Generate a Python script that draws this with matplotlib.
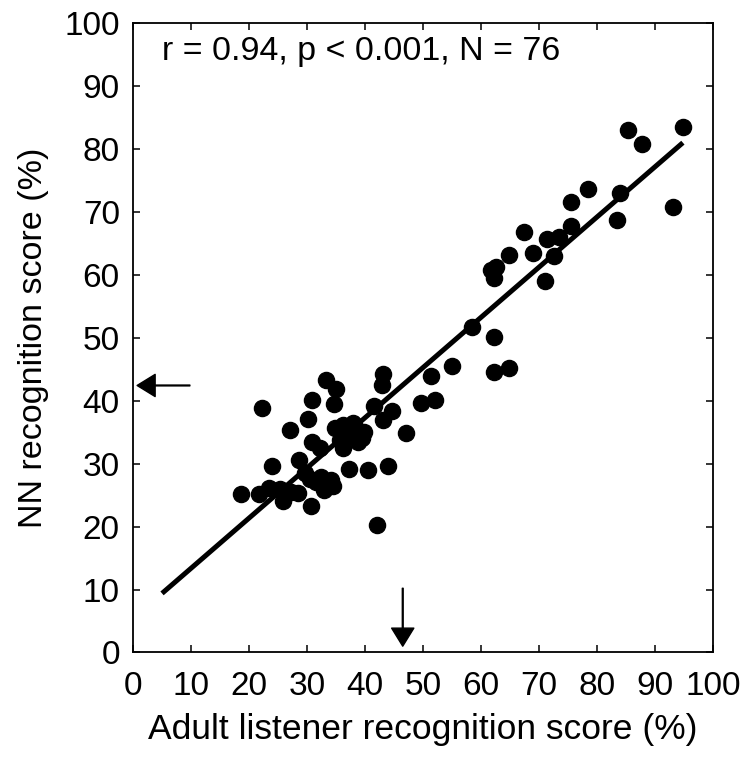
import matplotlib
matplotlib.use("Agg")
import matplotlib.pyplot as plt
import numpy as np

plt.rcParams['font.family'] = ['Liberation Sans', 'DejaVu Sans']

adult = [18.7, 21.7, 23.4, 25.4, 25.9, 26.9, 28.4, 30.7, 22.3, 24.0,
         28.6, 29.7, 30.5, 32.4, 34.1, 34.4, 32.9, 37.3, 40.5, 43.9,
         42.1, 30.8, 32.2, 27.0, 30.1, 30.8, 33.2, 35.0, 34.6, 42.9,
         43.1, 41.5, 44.7, 43.1, 47.0, 49.7, 52.1, 51.3, 55.0, 34.8,
         36.2, 37.9, 39.9, 38.8, 35.6, 37.1, 36.2, 39.4, 58.4, 62.2,
         62.2, 64.8, 61.7, 62.6, 62.3, 64.8, 68.9, 72.6, 71.1, 67.4,
         71.3, 73.5, 75.5, 75.5, 78.5, 84.0, 83.4, 93.1, 85.4, 87.8,
         94.8, 31.5, 33.5, 36.6, 38.3, 27.2]
nn = [25.1, 25.1, 26.1, 26.0, 24.0, 25.5, 25.3, 23.2, 38.8, 29.6,
      30.5, 28.5, 27.6, 27.8, 27.4, 26.4, 25.8, 29.2, 29.0, 29.6,
      20.3, 33.5, 32.5, 35.3, 37.0, 40.1, 43.3, 41.8, 39.4, 42.5,
      44.3, 39.1, 38.4, 36.9, 34.8, 39.6, 40.1, 43.9, 45.5, 35.6,
      36.1, 36.4, 35.0, 33.5, 33.7, 34.3, 32.4, 34.0, 51.7, 50.1,
      44.6, 45.1, 60.7, 61.2, 59.4, 63.1, 63.5, 63.0, 59.0, 66.8,
      65.7, 65.9, 67.7, 71.6, 73.6, 72.9, 68.7, 70.7, 82.9, 80.7,
      83.5, 27.0, 27.0, 35.0, 35.8, 25.5]

fit_slope = 0.797
fit_intercept = 5.4
fit_x = [5.0, 94.8]

stats_text = "r = 0.94, p < 0.001, N = 76"
ticks = [0, 10, 20, 30, 40, 50, 60, 70, 80, 90, 100]

fig = plt.figure(figsize=(7.52, 7.58), dpi=100)
ax = fig.add_axes([0.1769, 0.1392, 0.7713, 0.8308])

ax.plot(adult, nn, 'o', color='black', markersize=11.6, zorder=3)
fx = np.array(fit_x)
ax.plot(fx, fit_slope * fx + fit_intercept, color='black', lw=3.6,
        solid_capstyle='butt', zorder=2)

ax.set_xlim(0, 100)
ax.set_ylim(0, 100)
ax.set_xticks(ticks)
ax.set_yticks(ticks)
ax.tick_params(direction='in', length=5, width=1.1, labelsize=24,
               top=True, right=True)
ax.tick_params(axis='x', pad=13)
ax.tick_params(axis='y', pad=9.5)
for s in ax.spines.values():
    s.set_linewidth(1.3)

ax.set_xlabel("Adult listener recognition score (%)", fontsize=25.5, labelpad=8)
ax.set_ylabel("NN recognition score (%)", fontsize=24.5, labelpad=11)

ax.text(5.0, 95.4, stats_text, fontsize=24.5, ha='left', va='center')

arrow_kw = dict(facecolor='black', edgecolor='black', width=0.6,
                headwidth=16, headlength=13, shrink=0)
ax.annotate('', xy=(46.5, 1.0), xytext=(46.5, 10.2), arrowprops=arrow_kw,
            annotation_clip=False)
ax.annotate('', xy=(0.7, 42.4), xytext=(9.8, 42.4), arrowprops=arrow_kw,
            annotation_clip=False)

fig.savefig("out.png", dpi=100)
